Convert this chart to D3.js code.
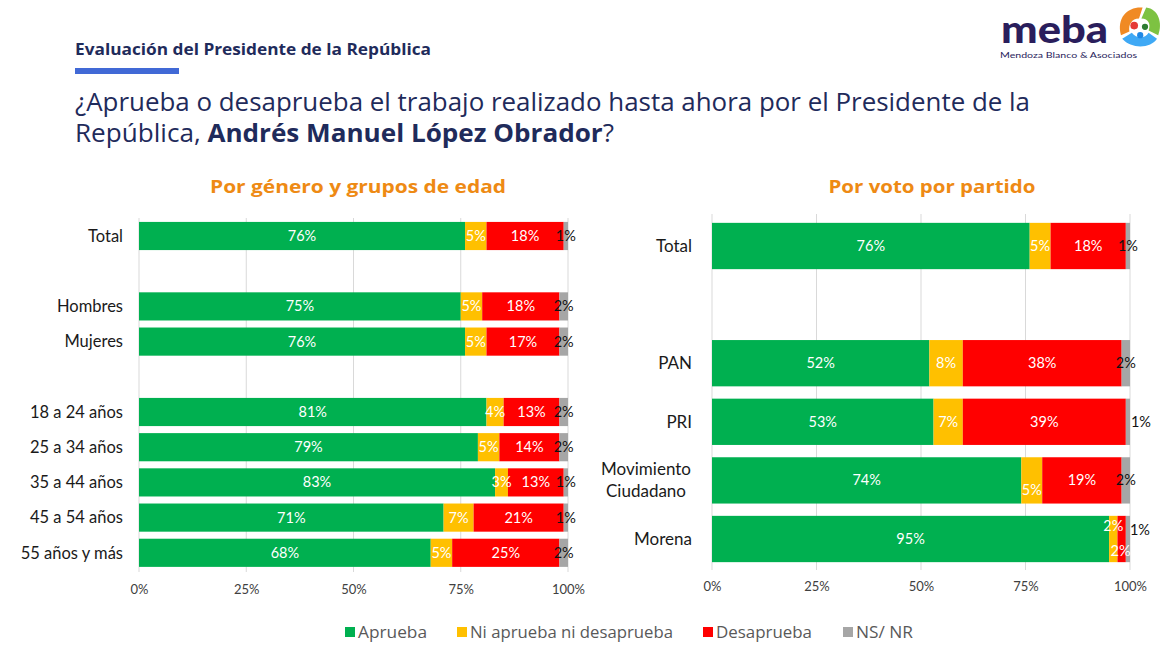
<!DOCTYPE html>
<html>
<head>
<meta charset="utf-8">
<script src="https://cdn.jsdelivr.net/npm/d3@7"></script>
<style>
  html, body { margin: 0; padding: 0; background: #fff; }
  svg { display: block; font-family: Lato, "Noto Sans", sans-serif; }
</style>
</head>
<body>
<svg id="chart" width="1169" height="649"></svg>
<script>
// ---------------- DATA ----------------
const seriesNames = ["Aprueba", "Ni aprueba ni desaprueba", "Desaprueba", "NS/ NR"];
const seriesColors = ["#00B050", "#FFC000", "#FF0000", "#A6A6A6"];
const ticks = [0, 25, 50, 75, 100];
const tickLabels = ["0%", "25%", "50%", "75%", "100%"];

const leftTitle = "Por género y grupos de edad";
const leftCategories = ["Total", "Hombres", "Mujeres", "18 a 24 años", "25 a 34 años", "35 a 44 años", "45 a 54 años", "55 años y más"];
const leftGapsAfter = ["Total", "Mujeres"];
const leftAprueba    = [76, 75, 76, 81, 79, 83, 71, 68];
const leftNi         = [5, 5, 5, 4, 5, 3, 7, 5];
const leftDesaprueba = [18, 18, 17, 13, 14, 13, 21, 25];
const leftNsnr       = [1, 2, 2, 2, 2, 1, 1, 2];

const rightTitle = "Por voto por partido";
const rightCategories = ["Total", "PAN", "PRI", "Movimiento Ciudadano", "Morena"];
const rightGapsAfter = ["Total"];
const rightAprueba    = [76, 52, 53, 74, 95];
const rightNi         = [5, 8, 7, 5, 2];
const rightDesaprueba = [18, 38, 39, 19, 2];
const rightNsnr       = [1, 2, 1, 2, 1];

// ---------------- DRAW ----------------
const svg = d3.select("#chart");
const wideFont = "'Open Sans', 'Noto Sans', sans-serif";

// Header
svg.append("text").attr("x", 75).attr("y", 55)
  .attr("font-family", wideFont)
  .attr("font-size", 16).attr("font-weight", 700).attr("fill", "#1F2B5B")
  .attr("textLength", 356).attr("lengthAdjust", "spacingAndGlyphs")
  .text("Evaluación del Presidente de la República");
svg.append("rect").attr("x", 75).attr("y", 68).attr("width", 104).attr("height", 6).attr("fill", "#4169D6");

const q1 = svg.append("text").attr("x", 75).attr("y", 111).attr("font-size", 25)
  .attr("font-family", wideFont).attr("fill", "#1F2B5B")
  .attr("textLength", 955).attr("lengthAdjust", "spacingAndGlyphs");
q1.text("¿Aprueba o desaprueba el trabajo realizado hasta ahora por el Presidente de la");
const q2 = svg.append("text").attr("x", 75).attr("y", 142).attr("font-size", 25)
  .attr("font-family", wideFont).attr("fill", "#1F2B5B")
  .attr("textLength", 539).attr("lengthAdjust", "spacingAndGlyphs");
q2.append("tspan").text("República, ");
q2.append("tspan").attr("font-weight", 700).text("Andrés Manuel López Obrador");
q2.append("tspan").text("?");

// Logo
const logo = svg.append("g");
logo.append("text").attr("x", 1001).attr("y", 43).attr("font-size", 38).attr("font-weight", 900)
  .attr("fill", "#2A1E5C").attr("textLength", 107).attr("lengthAdjust", "spacingAndGlyphs").text("meba");
logo.append("text").attr("x", 1000).attr("y", 58).attr("font-size", 8).attr("fill", "#2A1E5C")
  .attr("textLength", 137).attr("lengthAdjust", "spacingAndGlyphs")
  .text("Mendoza Blanco & Asociados");
const ic = logo.append("g").attr("transform", "translate(1139,28) scale(1.2)");
ic.append("path").attr("d", "M-15,6 C-19,-9 -9,-18 3,-17 L0,-8 C-6,-8 -9,-3 -8,3 Z").attr("fill", "#F08A24");
ic.append("path").attr("d", "M6,-17 C16,-16 20,-4 16,6 L8,2 C10,-3 8,-8 2,-8 Z").attr("fill", "#7DC242");
ic.append("path").attr("d", "M15,9 C10,17 -6,18 -14,9 L-6,4 C-2,9 5,9 8,4 Z").attr("fill", "#3FA9F5");
ic.append("circle").attr("cx", -4).attr("cy", -2).attr("r", 3.2).attr("fill", "#E53935");
ic.append("circle").attr("cx", 5).attr("cy", -1).attr("r", 2.6).attr("fill", "#2E7D32");
ic.append("circle").attr("cx", 1).attr("cy", 6).attr("r", 2.6).attr("fill", "#1E88E5");

function drawPanel(cfg) {
  const rows = cfg.categories.map((c, i) => ({
    cat: c, vals: [cfg.a[i], cfg.ni[i], cfg.d[i], cfg.ns[i]]
  }));
  const domain = [];
  cfg.categories.forEach(c => {
    domain.push(c);
    if (cfg.gapsAfter.includes(c)) domain.push("__gap_" + c);
  });
  const x = d3.scaleLinear().domain([0, 100]).range([cfg.x0, cfg.x1]);
  const y = d3.scaleBand().domain(domain).range([cfg.y0, cfg.y1])
    .paddingInner(cfg.padIn).paddingOuter(cfg.padOut);

  const g = svg.append("g");
  g.append("g").selectAll("line").data(ticks).join("line")
    .attr("x1", d => x(d)).attr("x2", d => x(d))
    .attr("y1", cfg.gridTop).attr("y2", cfg.gridBottom)
    .attr("stroke", "#D9D9D9").attr("stroke-width", 1);

  const axis = d3.axisBottom(x).tickValues(ticks).tickFormat((d, i) => tickLabels[i]).tickSize(0).tickPadding(0);
  const ag = g.append("g").attr("transform", `translate(0,${cfg.axisY})`).call(axis);
  ag.select(".domain").remove();
  ag.selectAll("text").attr("font-size", 13).attr("fill", "#404040")
    .attr("font-family", "Lato, sans-serif").attr("dy", 0);

  g.append("text").attr("x", cfg.titleX).attr("y", 193).attr("text-anchor", "middle")
    .attr("font-family", wideFont)
    .attr("font-size", 18).attr("font-weight", 700).attr("fill", "#EE8A14")
    .attr("textLength", cfg.titleLen).attr("lengthAdjust", "spacingAndGlyphs")
    .text(cfg.title);

  rows.forEach(r => {
    let cum = 0;
    const segs = r.vals.map((v, k) => { const s = { v, k, start: cum, end: cum + v }; cum += v; return s; });
    const rg = g.append("g");
    rg.selectAll("rect").data(segs).join("rect")
      .attr("x", s => x(s.start)).attr("width", s => x(s.end) - x(s.start))
      .attr("y", y(r.cat)).attr("height", y.bandwidth())
      .attr("fill", s => seriesColors[s.k]);
    const cy = y(r.cat) + y.bandwidth() / 2;
    rg.selectAll("text.val").data(segs).join("text").attr("class", "val")
      .attr("x", s => (x(s.start) + x(s.end)) / 2 + ((cfg.nudge[r.cat] || {})[s.k] || [0, 0])[0])
      .attr("y", s => cy + ((cfg.nudge[r.cat] || {})[s.k] || [0, 0])[1])
      .attr("dy", "0.35em").attr("text-anchor", "middle")
      .attr("font-size", 14.5).attr("fill", s => s.k === 3 ? "#111" : "#fff")
      .text(s => s.v + "%");
    const parts = r.cat === "Movimiento Ciudadano" ? ["Movimiento", "Ciudadano"] : [r.cat];
    const lt = rg.append("text").attr("text-anchor", parts.length > 1 ? "middle" : "end")
      .attr("font-size", cfg.catSize).attr("fill", "#1a1a1a");
    parts.forEach((p, i) => {
      lt.append("tspan")
        .attr("x", parts.length > 1 ? cfg.labelX - 46 : cfg.labelX)
        .attr("y", cy + (i - (parts.length - 1) / 2) * 22)
        .attr("dy", "0.35em").text(p);
    });
  });
}

drawPanel({
  title: leftTitle, titleX: 358, titleLen: 296,
  categories: leftCategories, gapsAfter: leftGapsAfter,
  a: leftAprueba, ni: leftNi, d: leftDesaprueba, ns: leftNsnr,
  x0: 139, x1: 568, y0: 218.4, y1: 570.4, padIn: 0.2, padOut: 0.1,
  gridTop: 218, gridBottom: 572, axisY: 594, labelX: 123, catSize: 16.5,
  nudge: {}
});

drawPanel({
  title: rightTitle, titleX: 932, titleLen: 207,
  categories: rightCategories, gapsAfter: rightGapsAfter,
  a: rightAprueba, ni: rightNi, d: rightDesaprueba, ns: rightNsnr,
  x0: 712, x1: 1130, y0: 216.7, y1: 568.3, padIn: 0.21, padOut: 0.105,
  gridTop: 214, gridBottom: 570, axisY: 591, labelX: 692, catSize: 17,
  nudge: {
    "PRI": { 3: [13, 0] },
    "Movimiento Ciudadano": { 1: [0, 10] },
    "Morena": { 1: [0, -13], 2: [-1, 12], 3: [12, -9] }
  }
});

// Legend
const legend = svg.append("g").attr("transform", "translate(0,632)");
const legX = [345, 457, 703, 843];
const legLen = [69, 203, 96, 57];
seriesNames.forEach((s, i) => {
  legend.append("rect").attr("x", legX[i]).attr("y", -5).attr("width", 10).attr("height", 10).attr("fill", seriesColors[i]);
  legend.append("text").attr("x", legX[i] + 13).attr("y", 0).attr("dy", "0.35em")
    .attr("font-family", wideFont)
    .attr("font-size", 16).attr("fill", "#595959")
    .attr("textLength", legLen[i]).attr("lengthAdjust", "spacingAndGlyphs").text(s);
});
</script>
</body>
</html>
